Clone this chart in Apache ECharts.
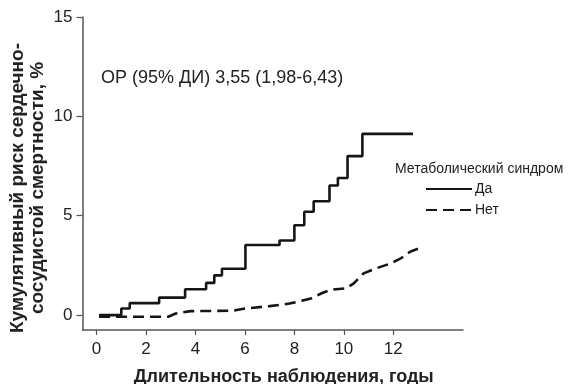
<!DOCTYPE html>
<html>
<head>
<meta charset="utf-8">
<script src="https://cdn.jsdelivr.net/npm/echarts@6/dist/echarts.min.js"></script>
<style>html,body{margin:0;padding:0;background:#fff;}#c{width:568px;height:384px;}</style>
</head>
<body>
<div id="c"></div>
<script>
// Data
const xTicks = [0, 2, 4, 6, 8, 10, 12];
const yTicks = [0, 5, 10, 15];
const yesName = 'Да';
const noName = 'Нет';
const yesT = [0.1, 1.0, 1.34, 2.53, 3.58, 4.43, 4.76, 5.07, 6.02, 7.4, 8.0, 8.4, 8.78, 9.42, 9.76, 10.15, 10.75, 12.8];
const yesV = [0, 0.33, 0.6, 0.88, 1.3, 1.62, 2.0, 2.33, 3.53, 3.75, 4.52, 5.2, 5.73, 6.52, 6.9, 8.0, 9.12, 9.12];
const noT = [0.1, 2.9, 3.2, 3.8, 5.5, 6.0, 7.0, 7.8, 8.3, 8.7, 9.1, 9.5, 10.1, 10.4, 10.8, 11.3, 11.9, 12.3, 12.7, 13.1];
const noV = [-0.08, -0.08, 0.08, 0.2, 0.22, 0.33, 0.45, 0.58, 0.72, 0.85, 1.1, 1.28, 1.35, 1.6, 2.1, 2.35, 2.6, 2.85, 3.2, 3.38];
const annotation = 'ОР (95% ДИ) 3,55 (1,98-6,43)';
const legendTitle = 'Метаболический синдром';
const xTitle = 'Длительность наблюдения, годы';
const yTitle = 'Кумулятивный риск сердечно-\nсосудистой смертности, %';

const zip = (a, b) => a.map((v, i) => [v, b[i]]);
const chart = echarts.init(document.getElementById('c'), null, {renderer: 'canvas'});
const txt = '#222';
const axisColor = '#555';
chart.setOption({
  animation: false,
  backgroundColor: '#fff',
  grid: {left: 82.5, right: 105, top: 17, bottom: 54, containLabel: false, outerBoundsMode: 'none'},
  title: {
    text: legendTitle, left: 395, top: 162, padding: 0,
    textStyle: {fontFamily: 'Liberation Sans', fontSize: 14, fontWeight: 'normal', color: txt}
  },
  legend: {
    orient: 'vertical', left: 425, top: 182, padding: 0,
    itemWidth: 46, itemHeight: 14, itemGap: 7,
    data: [yesName, noName],
    itemStyle: {opacity: 0},
    textStyle: {fontFamily: 'Liberation Sans', fontSize: 14, color: txt, padding: [0, 0, 0, -2]}
  },
  xAxis: {
    type: 'value', min: -0.57, max: 14.82,
    axisLine: {onZero: false, lineStyle: {color: axisColor, width: 1.5}},
    axisTick: {customValues: xTicks, length: 5, lineStyle: {color: axisColor, width: 1.2}},
    axisLabel: {customValues: xTicks, margin: 11, fontFamily: 'Liberation Sans', fontSize: 17, color: txt},
    splitLine: {show: false},
    name: xTitle, nameLocation: 'middle', nameGap: 38,
    nameTextStyle: {fontFamily: 'Liberation Sans', fontWeight: 'bold', fontSize: 18, color: txt, padding: [0, 0, 0, 22]}
  },
  yAxis: {
    type: 'value', min: -0.75, max: 15,
    axisLine: {show: true, onZero: false, lineStyle: {color: axisColor, width: 1.5}},
    axisTick: {show: true, customValues: yTicks, length: 6, lineStyle: {color: axisColor, width: 1.2}},
    axisLabel: {customValues: yTicks, margin: 10, fontFamily: 'Liberation Sans', fontSize: 17, color: txt},
    splitLine: {show: false}
  },
  graphic: [
    {type: 'text', x: 101, y: 78, style: {text: annotation, fontFamily: 'Liberation Sans', fontSize: 18, fill: txt, verticalAlign: 'middle', align: 'left'}},
    {type: 'text', x: 28, y: 188, rotation: Math.PI / 2, style: {text: yTitle, fontFamily: 'Liberation Sans', fontWeight: 'bold', fontSize: 19, lineHeight: 20, fill: txt, align: 'center', verticalAlign: 'middle'}}
  ],
  series: [
    {
      name: yesName, type: 'line', step: 'end', symbol: 'none',
      data: zip(yesT, yesV),
      lineStyle: {color: '#151515', width: 2.6},
      itemStyle: {color: '#151515'}
    },
    {
      name: noName, type: 'line', symbol: 'none',
      data: zip(noT, noV),
      lineStyle: {color: '#151515', width: 2.6, type: [11, 6]},
      itemStyle: {color: '#151515'}
    }
  ]
});
</script>
</body>
</html>
